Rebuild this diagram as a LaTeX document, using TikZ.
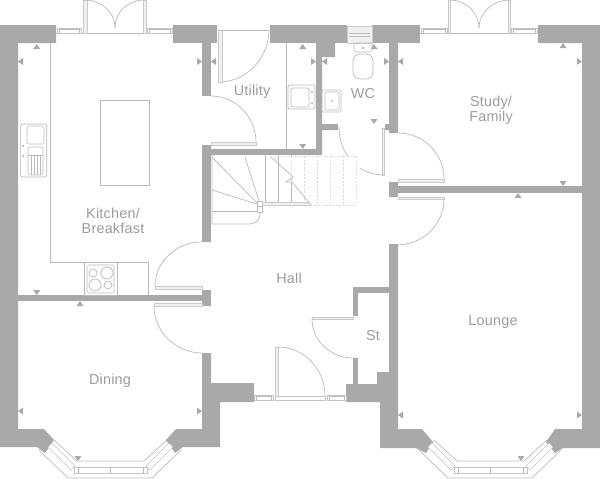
\documentclass[tikz,border=0pt]{standalone}
\usepackage{fontspec}
\setmainfont[LetterSpace=1.5]{Liberation Sans}
\definecolor{wallgrey}{HTML}{A9A9A9}
\definecolor{linegrey}{HTML}{BABABA}
\definecolor{leafgrey}{HTML}{E6E6E6}
\tikzset{
  wall/.style={fill=wallgrey},
  fitting/.style={draw=linegrey, line width=.7pt},
  leaf/.style={draw=linegrey!75, line width=.5pt, fill=leafgrey!60},
  glazing/.style={draw=linegrey!85, line width=.5pt, fill=white},
  treadfaint/.style={draw=linegrey!60, line width=.6pt, dash pattern=on 2pt off 1.5pt},
  treadhidden/.style={draw=linegrey!120!black, line width=.6pt, dash pattern=on 2pt off 1.5pt},
  roomlabel/.style={text=wallgrey!92!black, align=center, inner sep=0pt, font=\fontsize{14.4}{15.5}\selectfont},
}
\begin{document}
\begin{tikzpicture}[x=1pt, y=-1pt]
  \useasboundingbox (0,0) rectangle (600,479);
  % outer walls
  \fill[wall] (0,25) -- (56,25) -- (56,43) -- (18,43) -- (18,429) -- (44,429) -- (54,440) -- (45,453) -- (37,447) -- (0,447) -- cycle;
  \fill[wall] (173,25) rectangle (217,43);
  \fill[wall] (270,25) rectangle (347,43);
  \fill[wall] (372,25) rectangle (420,43);
  \fill[wall] (538,25) -- (600,25) -- (600,448) -- (563,448) -- (555,453) -- (546,442) -- (555,429) -- (582,429) -- (582,43) -- (538,43) -- cycle;
  \fill[wall] (202,353) -- (211,353) -- (211,383) -- (254,383) -- (254,402) -- (220,402) -- (220,447) -- (183,447) -- (175,453) -- (166,440) -- (176,429) -- (202,429) -- cycle;
  \fill[wall] (389,244) -- (398,244) -- (398,429) -- (422,429) -- (433,442) -- (426,453) -- (416,448) -- (380,448) -- (380,402) -- (346,402) -- (346,384) -- (377,384) -- (377,372) -- (389,372) -- cycle;
  % inner walls
  \fill[wall] (202,43) rectangle (211,96);
  \fill[wall] (202,145) rectangle (211,242);
  \fill[wall] (211,149) rectangle (322,155);
  \fill[wall] (316,43) -- (335,43) -- (335,57) -- (322,57) -- (322,124) -- (338,124) -- (338,130) -- (322,130) -- (322,155) -- (316,155) -- cycle;
  \fill[wall] (389,43) -- (398,43) -- (398,133) -- (389,133) -- (389,130) -- (385,130) -- (385,124) -- (389,124) -- cycle;
  \fill[wall] (389,182) rectangle (398,197);
  \fill[wall] (398,186) rectangle (582,193);
  \fill[wall] (18,295) rectangle (202,301);
  \fill[wall] (202,290) rectangle (211,306);
  \fill[wall] (353,287) rectangle (389,293);
  \fill[wall] (353,293) rectangle (358,316);
  \fill[wall] (353,358) rectangle (358,384);
  % room markers
  \foreach \mx/\my in {36.7/44, 302.7/44, 374/44, 563/43, 80/301, 518/193}
    \fill[wall] (\mx,\my) -- +(-3.5,5) -- +(3.5,5) -- cycle;
  \foreach \mx/\my in {36.7/295, 302.7/149, 374/124, 563/186, 78/461, 521/461}
    \fill[wall] (\mx,\my) -- +(-3.5,-5) -- +(3.5,-5) -- cycle;
  \foreach \mx/\my in {18/61.5, 211/61.5, 322/61.5, 398/61.5, 18/411, 398/415}
    \fill[wall] (\mx,\my) -- +(5,-3.5) -- +(5,3.5) -- cycle;
  \foreach \mx/\my in {202/61.5, 316/61.5, 389/61.5, 582/61.5, 202/411, 582/415}
    \fill[wall] (\mx,\my) -- +(-5,-3.5) -- +(-5,3.5) -- cycle;
  % french doors and their lights
  \draw[fitting] (56,33) -- (173,33);
  \draw[fitting] (420,33) -- (538,33);
  \draw[leaf] (83,0) rectangle (87,33);
  \draw[leaf] (143,0) rectangle (146,33);
  \draw[leaf] (448,0) rectangle (450.5,33);
  \draw[leaf] (508,0) rectangle (510.5,33);
  \draw[fitting] (85,0) .. controls (101,0) and (115,12) .. (115,28);
  \draw[fitting] (144,0) .. controls (128,0) and (115,12) .. (115,28);
  \draw[fitting] (450,0) .. controls (465,0) and (479,12) .. (479,28);
  \draw[fitting] (509,0) .. controls (494,0) and (479,12) .. (479,28);
  \foreach \xa/\xb/\ya in {57/81/28, 147/172/28, 421/447/28, 511/537/28, 254/273/395, 327/346/395} {
    \draw[glazing] (\xa,\ya) rectangle (\xb,\ya+5);
    \draw[fitting, line width=.4pt] (\xa+2,\ya) -- (\xa+2,\ya+5);
    \draw[fitting, line width=.4pt] (\xb-2,\ya) -- (\xb-2,\ya+5);
    \draw[fitting, line width=.4pt] (\xa+2,\ya+1.5) -- (\xb-2,\ya+1.5);
  }
  % inner doors
  \draw[leaf] (155,286) rectangle (202,289.5);
  \draw[fitting] (155,286) .. controls (155,262) and (176,242) .. (202,242);
  \draw[leaf] (154,303) rectangle (202,306.5);
  \draw[fitting] (154,306) .. controls (154,332) and (176,353) .. (202,353);
  \draw[leaf] (211,142) rectangle (256,145);
  \draw[fitting] (256,142) .. controls (256,117) and (236,96) .. (211,96);
  \draw[leaf] (218,30) rectangle (222,82);
  \draw[fitting] (218,30.5) -- (269,30.5);
  \draw[fitting] (269,31) .. controls (268,59) and (247,80) .. (222,82);
  \draw[leaf] (382,128) rectangle (384.5,175);
  \draw[fitting] (339,127) .. controls (339,154) and (358,175) .. (384,175);
  \draw[leaf] (398,179) rectangle (444,182);
  \draw[fitting] (398,133) .. controls (423,133) and (444,153) .. (444,179);
  \draw[leaf] (398,197) rectangle (444,199.5);
  \draw[fitting] (444,199) .. controls (444,224) and (424,244) .. (398,245);
  \draw[leaf] (312,317) rectangle (353,319.5);
  \draw[fitting] (312,319) .. controls (312,341) and (331,358) .. (353,358);
  \draw[leaf] (275.5,347) rectangle (278,396);
  \draw[fitting] (278,347) .. controls (304,347) and (325,369) .. (325,396);
  \draw[glazing] (275,396) rectangle (325,400);
  % bay windows
  \foreach \bx in {0,380} {
    \begin{scope}[xshift=\bx pt]
      \draw[fitting] (54,440) -- (77,461) -- (144,461) -- (167,440);
      \draw[fitting] (39,450) -- (68,478) -- (152,478) -- (181,450);
      \draw[glazing] (74,467) rectangle (147,473);
      \draw[fitting, line width=.4pt] (78,467) -- (78,473);
      \draw[fitting, line width=.4pt] (110,467) -- (110,473);
      \draw[fitting, line width=.4pt] (143,467) -- (143,473);
      \draw[glazing] (48,447) -- (52,443) -- (75,466) -- (71,470) -- cycle;
      \draw[glazing] (173,447) -- (169,443) -- (146,466) -- (150,470) -- cycle;
    \end{scope}
  }
  % WC
  \draw[leaf] (347,26) rectangle (372,43);
  \draw[fitting] (349,33) -- (370,33);
  \draw[fitting] (349,36) -- (370,36);
  \draw[fitting, rounded corners=1.5pt] (354,43) rectangle (372,52);
  \draw[fitting] (363,48) circle (.8);
  \draw[fitting, rounded corners=7pt] (353,54) rectangle (373,79);
  \draw[fitting, rounded corners=1pt] (322,90) rectangle (341,112);
  \draw[fitting, rounded corners=1pt] (325,92) rectangle (339,110);
  \draw[fitting] (332,101) circle (.6);
  % utility
  \draw[fitting] (286,43) -- (286,149);
  \draw[fitting, rounded corners=2pt] (288,85) rectangle (315,109);
  \draw[fitting, rounded corners=2pt] (291,88) rectangle (309,107);
  \draw[fitting] (312,92) circle (1);
  \draw[fitting] (312,103) circle (1);
  % kitchen
  \draw[fitting] (50.5,43) -- (50.5,262) -- (148,262) -- (148,295);
  \draw[fitting] (100.5,100) rectangle (149,185);
  \draw[fitting] (84,262) rectangle (117,295);
  \draw[fitting, rounded corners=1.5pt] (87,265) rectangle (114,293);
  \draw[fitting] (93,273) circle (4);
  \draw[fitting] (107,273) circle (6);
  \draw[fitting] (95,285) circle (6);
  \draw[fitting] (108,285) circle (4);
  \draw[fitting, rounded corners=1.5pt] (20.6,124) rectangle (46.7,177);
  \draw[fitting, rounded corners=1.5pt] (27,126) rectangle (44,144);
  \draw[fitting, rounded corners=1.5pt] (28,147) rectangle (43,175);
  \draw[fitting] (28,155) -- (43,155);
  \foreach \rx in {31,34,37,40}
    \draw[fitting] (\rx,155) -- (\rx,175);
  \draw[fitting] (23,146) circle (1);
  \draw[fitting] (23,156) circle (1);
  % stairs
  \draw[fitting] (212,157) -- (257,203);
  \draw[fitting] (245,157) -- (259,201);
  \draw[fitting] (212,190) -- (257,204);
  \draw[fitting] (212,211) -- (257,211);
  \draw[fitting] (212,155) -- (212,224) -- (247,224) .. controls (255,224) and (260,222) .. (260,212);
  \draw[fitting] (257,201) rectangle (262,212);
  \draw[fitting] (257,206) -- (262,206);
  \draw[leaf] (262,202) rectangle (311,205);
  \foreach \tx in {265.7,278.7,291.7}
    \draw[fitting] (\tx,155) -- (\tx,202);
  \draw[fill=white, draw=none] (280,156) -- (360,156) -- (360,206) -- (311,206) -- (293,177) -- (286,182) -- (292,182) -- cycle;
  \draw[fitting] (270,156) -- (293,177) -- (286,182) -- (292,182) -- (311,205);
  \foreach \tx in {304,317,343}
    \draw[treadfaint] (\tx,156) -- (\tx,205);
  \draw[treadhidden] (291.7,156) -- (291.7,177);
  \draw[treadhidden] (330,156) -- (330,205);
  \draw[treadhidden] (356,156) -- (356,205);
  \draw[treadhidden] (270,156) -- (356,156);
  \draw[treadfaint] (311,205) -- (356,205);
  % room names
  \node[roomlabel] (kitchen) at (113,221) {Kitchen/\\Breakfast};
  \node[roomlabel] (dining) at (110,381) {Dining};
  \node[roomlabel] (hall) at (289,278) {Hall};
  \node[roomlabel] (lounge) at (493,322) {Lounge};
  \node[roomlabel] (store) at (373,336) {St};
  \node[roomlabel] (utility) at (252,92) {Utility};
  \node[roomlabel] (wc) at (363,94) {WC};
  \node[roomlabel] (study) at (491,110.5) {Study/\\Family};
\end{tikzpicture}
\end{document}
